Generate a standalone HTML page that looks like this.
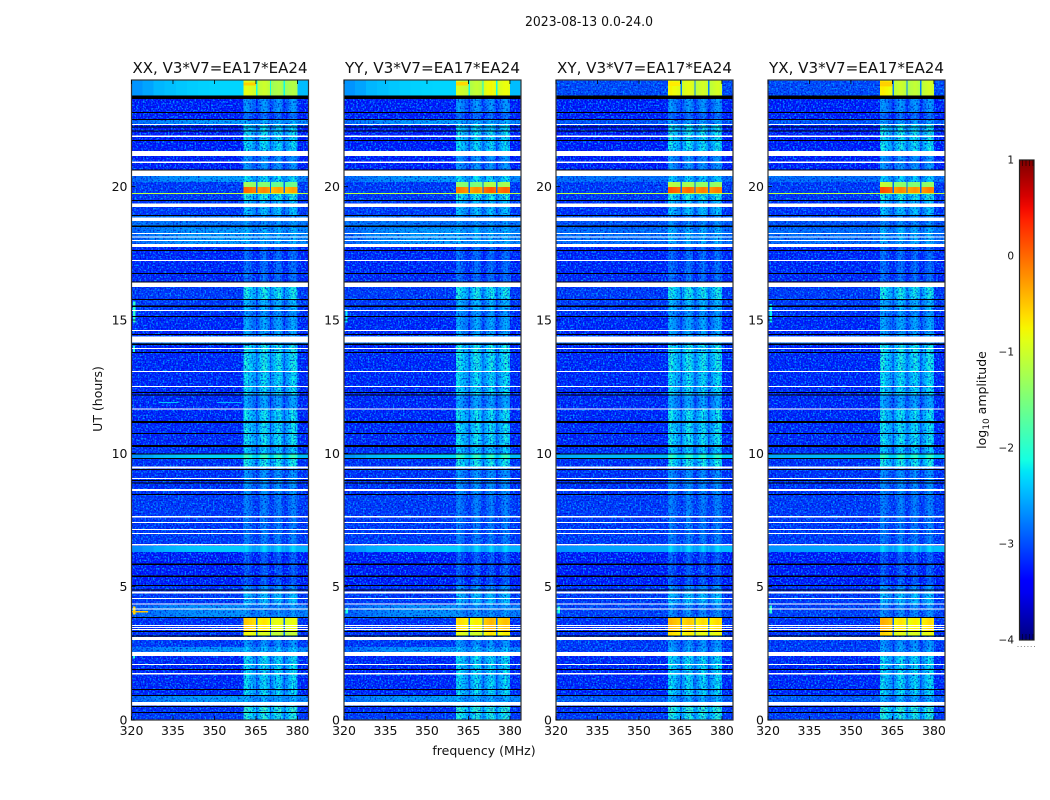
<!DOCTYPE html>
<html>
<head>
<meta charset="utf-8">
<title>Dynamic spectra 2023-08-13</title>
<style>
html,body{margin:0;padding:0;background:#fff;width:1050px;height:800px;overflow:hidden}
svg{display:block}
text{font-family:"DejaVu Sans","Liberation Sans",sans-serif;fill:#111}
.tick{font-size:12.5px}
</style>
</head>
<body>
<svg id="chart" width="1050" height="800" viewBox="0 0 1050 800" xmlns="http://www.w3.org/2000/svg">
<defs>
<linearGradient id="jetGradient" x1="0" y1="1" x2="0" y2="0"></linearGradient>
<filter id="speckleLight" x="0" y="0" width="100%" height="100%" color-interpolation-filters="sRGB">
<feTurbulence type="fractalNoise" baseFrequency="0.6" numOctaves="1" seed="3"/>
<feColorMatrix type="matrix" values="0 0 0 0 0  0 0 0 0 0.6  0 0 0 0 1  4 0 0 0 -1.85"/>
</filter>
<filter id="speckleDark" x="0" y="0" width="100%" height="100%" color-interpolation-filters="sRGB">
<feTurbulence type="fractalNoise" baseFrequency="0.6" numOctaves="1" seed="11"/>
<feColorMatrix type="matrix" values="0 0 0 0 0  0 0 0 0 0  0 0 0 0 0.75  0 3 0 0 -1.5"/>
</filter>
</defs>
<text x="589" y="26" text-anchor="middle" font-size="13" textLength="128" lengthAdjust="spacingAndGlyphs">2023-08-13 0.0-24.0</text>
<text x="484" y="755" text-anchor="middle" font-size="12.5">frequency (MHz)</text>
<text transform="translate(102,399) rotate(-90)" text-anchor="middle" font-size="12.5">UT (hours)</text>
<text transform="translate(986,400) rotate(-90)" text-anchor="middle" font-size="12.5">log<tspan font-size="9" dy="3">10</tspan><tspan dy="-3"> amplitude</tspan></text>
<g id="panels"></g>
<g id="colorbar"></g>
</svg>
<script>
const panelTitles = ["XX, V3*V7=EA17*EA24", "YY, V3*V7=EA17*EA24", "XY, V3*V7=EA17*EA24", "YX, V3*V7=EA17*EA24"];
const panelIds = ["xx", "yy", "xy", "yx"];
const xTicksMHz = [320, 335, 350, 365, 380];
const yTicksUT = [0, 5, 10, 15, 20];
const colorbarTicks = [1, 0, -1, -2, -3, -4];

/* Time bands, top edge of each in UT hours (last band ends at 0) */
const bandTopUT = [24,23.40,22.76,22.50,22.33,21.34,20.63,20.40,20.18,19.99,19.74,19.46,18.90,18.45,17.74,16.43,15.79,15.38,15.11,14.40,14.06,13.05,12.19,11.66,11.14,10.24,9.96,9.83,9.49,8.48,6.53,6.30,5.06,4.80,4.31,3.86,3.34,3.15,2.74,2.55,0.90,0.68,0.53,0.26];
/* log10 amplitude outside the bright band, parallel hands (XX, YY) */
const bgParallel = [-2.45,-3.3,-3.3,-2.7,-3.3,-3.3,-3.15,-2.7,-3.15,-3.15,-3.15,-3.15,-2.8,-2.7,-3.25,-3.15,-3.15,-3.2,-3.25,-2.7,-3.25,-3.25,-3.25,-3.25,-3.25,-3.2,-2.45,-3.2,-3.2,-3.15,-2.5,-3.3,-3.2,-3.15,-2.75,-3.2,-3.2,-3.15,-2.7,-3.25,-2.7,-3.1,-3.2,-3.15];
/* log10 amplitude outside the bright band, cross hands (XY, YX) */
const bgCross = [-3.05,-3.3,-3.3,-3.0,-3.3,-3.3,-3.15,-2.85,-3.15,-3.15,-3.15,-3.2,-3.0,-2.85,-3.25,-3.15,-3.15,-3.2,-3.25,-2.85,-3.25,-3.25,-3.25,-3.25,-3.25,-3.2,-2.35,-3.2,-3.2,-3.15,-2.45,-3.3,-3.2,-3.15,-3.1,-3.2,-3.2,-3.15,-3.15,-3.25,-2.95,-3.1,-3.2,-3.15];
/* log10 amplitude inside 360.5-380 MHz */
const inParallel = [-1.15,-2.85,-3.1,-2.7,-2.45,-2.85,-2.85,-2.45,-1.55,-0.3,-2.35,-2.6,-2.85,-2.7,-3.1,-2.35,-2.65,-2.85,-2.75,-2.7,-2.35,-2.45,-2.75,-2.4,-2.4,-2.55,-2.2,-2.35,-2.85,-3.0,-2.6,-3.2,-2.85,-2.6,-2.85,-0.8,-1.05,-2.85,-2.6,-2.45,-2.7,-2.5,-2.2,-2.3];
const inCross = [-1.15,-2.85,-3.1,-2.8,-2.4,-2.85,-2.85,-2.55,-1.5,-0.3,-2.35,-2.6,-2.9,-2.7,-3.1,-2.35,-2.65,-2.85,-2.75,-2.7,-2.35,-2.45,-2.75,-2.4,-2.4,-2.55,-2.25,-2.35,-2.9,-3.0,-2.6,-3.2,-2.85,-2.6,-2.9,-0.8,-1.0,-2.85,-2.75,-2.45,-2.7,-2.5,-2.2,-2.3];

/* Channel lower edges (MHz) and in-band offset for each 0.5 MHz channel from 360.5 */
const offBandEdgesMHz = [320,324,328,332,336,340,344,348,352,356,360.5];
const inBandOffsets = [.2,.3,.3,.2,.1,.1,-.05,-.1,-.1,-.6,-.15,-.05,.1,.2,.3,.3,.2,.1,-.1,-.6,-.2,-.1,.1,.1,.2,.3,.2,.1,-.1,-.6,-.2,-.1,0,.1,.2,.3,.3,.2,.1];
/* Gentle continuum rise toward higher frequency in bright bands */
const continuumTilt = [0,.08,.17,.21,.25,.28,.3,.31,.32,.32];
/* Per-polarization trim of the strong RFI, one value per subband */
const rfiTrimXX = [.2,.05,-.1,-.1];
const rfiTrimYY = [.1,0,.3,.25];
const rfiTrimXY = [.3,.2,.1,.1];
const rfiTrimYX = [.35,.05,0,.1];
const rfiTrims = [rfiTrimXX, rfiTrimYY, rfiTrimXY, rfiTrimYX];

/* Flagged rows (UT ranges), white = missing */
const whiteGapLow = [22.31,21.86,21.15,20.89,20.40,19.24,18.72,18.22,18.09,17.96,17.74,17.21,16.24,15.34,14.59,14.16,13.91,13.05,12.49,11.64,9.43,9.04,8.59,7.59,7.39,7.13,6.98,6.54,4.74,4.54,4.33,4.14,3.53,3.45,3.38,3.00,2.40,2.06,1.71,0.54];
const whiteGapHigh = [22.35,21.91,21.34,20.94,20.60,19.37,18.84,18.26,18.13,18.00,17.85,17.25,16.40,15.38,14.63,14.38,13.95,13.09,12.53,11.69,9.51,9.08,8.66,7.65,7.43,7.16,7.01,6.60,4.81,4.58,4.37,4.18,3.56,3.49,3.41,3.12,2.55,2.10,1.76,0.68];
/* Zero-amplitude rows (UT ranges), black */
const blackGapLow = [23.29,22.76,22.50,22.22,22.07,21.71,20.60,19.46,18.90,18.49,17.59,16.73,16.40,15.75,15.49,15.11,14.44,14.06,13.76,12.26,12.17,11.14,10.73,10.24,9.95,9.79,9.38,8.96,8.87,8.43,5.81,5.36,5.03,4.86,3.83,3.30,3.13,1.88,1.13,0.90,0.49,0.26];
const blackGapHigh = [23.41,22.80,22.54,22.26,22.11,21.75,20.64,19.50,18.94,18.54,17.63,16.76,16.44,15.79,15.54,15.15,14.48,14.12,13.80,12.30,12.21,11.21,10.76,10.31,9.99,9.83,9.41,9.00,8.91,8.48,5.87,5.42,5.06,4.89,3.86,3.34,3.17,1.91,1.16,0.94,0.53,0.30];

/* Isolated RFI features; panel -1 = all panels */
const spotPanel = [-1,0,0,0,0,0,0,0,1,2,3,3,0,3,1,2,3,1];
const spotMHzLow = [320,320.6,320,320.6,330,351,320.6,320.6,320.6,320.6,320.6,320.6,360.5,360.5,360.5,360.5,360.5,320.6];
const spotMHzHigh = [384,321.5,326,321.4,337,360,321.2,321.2,321.4,321.4,321.4,321.4,365,365,365,365,365,321.2];
const spotUTLow = [19.73,3.95,4.03,14.9,11.88,11.88,13.8,2.3,4.0,4.0,4.0,14.9,23.80,23.75,23.80,23.78,23.78,14.9];
const spotUTHigh = [19.77,4.25,4.08,15.7,11.92,11.92,14.05,2.55,4.2,4.25,4.3,15.6,23.90,23.95,23.92,23.92,23.95,15.4];
const spotLevel = [-1.1,-0.6,-0.5,-2.0,-2.4,-2.5,-2.1,-2.1,-2.1,-2.1,-2.0,-2.2,-0.55,-0.6,-0.6,-0.7,-0.55,-2.2];

const panelLeft = [131.5, 344, 556, 768];
const panelWidth = 177;
const plotTop = 80;
const plotHeight = 640;
const mhzMin = 320, mhzMax = 384, utMax = 24;
const cbarLeft = 1019.5, cbarWidth = 14.5, cbarTop = 160, cbarHeight = 480;
const SVGNS = "http://www.w3.org/2000/svg";

function xScale(p, mhz) { return panelLeft[p] + (mhz - mhzMin) / (mhzMax - mhzMin) * panelWidth; }
function yScale(ut) { return plotTop + (utMax - ut) / utMax * plotHeight; }
function cbarY(v) { return cbarTop + (1 - v) / 5 * cbarHeight; }
function lerp(t, pts) {
  if (t <= pts[0][0]) return pts[0][1];
  for (let i = 1; i < pts.length; i++) {
    if (t <= pts[i][0]) {
      const a = pts[i - 1], b = pts[i];
      return a[1] + (b[1] - a[1]) * (t - a[0]) / (b[0] - a[0]);
    }
  }
  return pts[pts.length - 1][1];
}
function jet(level) {
  const t = Math.max(0, Math.min(1, (level + 4) / 5));
  const r = lerp(t, [[.35, 0], [.66, 1], [.89, 1], [1, .5]]);
  const g = lerp(t, [[.125, 0], [.375, 1], [.64, 1], [.91, 0]]);
  const b = lerp(t, [[0, .5], [.11, 1], [.34, 1], [.65, 0]]);
  return "rgb(" + Math.round(r * 255) + "," + Math.round(g * 255) + "," + Math.round(b * 255) + ")";
}
function make(tag, attrs, parent) {
  const el = document.createElementNS(SVGNS, tag);
  for (const k in attrs) el.setAttribute(k, attrs[k]);
  parent.appendChild(el);
  return el;
}
function cellRect(p, mhzLo, mhzHi, utLo, utHi, fill, parent) {
  const y0 = yScale(utHi), y1 = yScale(utLo);
  const x0 = xScale(p, mhzLo), x1 = xScale(p, mhzHi);
  return make("rect", { x: x0.toFixed(2), y: y0.toFixed(2), width: (x1 - x0).toFixed(2), height: (y1 - y0).toFixed(2), fill: fill, "shape-rendering": "crispEdges" }, parent);
}

const root = document.getElementById("panels");
panelTitles.forEach(function (title, p) {
  const g = make("g", {}, root);
  
  
  const base = make("g", {}, g);
  const x0 = panelLeft[p];
  const bg = p < 2 ? bgParallel : bgCross;
  const inb = p < 2 ? inParallel : inCross;
  const noisy = [];
  const smooth = [];
  bandTopUT.forEach(function (ut, b) {
    const low = b + 1 < bandTopUT.length ? bandTopUT[b + 1] : 0;
    const tilted = bg[b] > -2.8 ? 1 : 0;
    const isSmooth = bg[b] > -2.62;
    for (let c = 0; c + 1 < offBandEdgesMHz.length; c++) {
      const level = bg[b] + tilted * continuumTilt[c] * (p < 2 ? 1 : .3) - tilted * .2;
      (isSmooth ? smooth : noisy).push([offBandEdgesMHz[c], offBandEdgesMHz[c + 1], low, ut, level]);
    }
    inBandOffsets.forEach(function (off, c) {
      const lo = 360.5 + c * 0.5;
      const strong = inb[b] > -1.7;
      let level;
      if (off < -.5) {
        level = strong ? bg[b] + .3 : Math.max(bg[b], inb[b] + off);
      } else if (strong) {
        level = inb[b] + off * .3 + rfiTrims[p][Math.min(3, Math.floor(c / 10))];
      } else {
        level = Math.max(inb[b] + off, Math.min(bg[b], inb[b]));
      }
      (strong || isSmooth ? smooth : noisy).push([lo, lo + .5, low, ut, level]);
    });
    (isSmooth ? smooth : noisy).push([380, 384, low, ut, bg[b]]);
  });
  noisy.forEach(function (t) {
    const cell = cellRect(p, t[0], t[1], t[2], t[3], jet(t[4]), base);
    
    
  });
  const n1 = make("rect", { x: x0, y: plotTop, width: panelWidth, height: plotHeight, filter: "url(#speckleLight)" }, g);
  
  
  const n2 = make("rect", { x: x0, y: plotTop, width: panelWidth, height: plotHeight, filter: "url(#speckleDark)" }, g);
  
  
  const strongLayer = make("g", {}, g);
  smooth.forEach(function (t) {
    const cell = cellRect(p, t[0], t[1], t[2], t[3], jet(t[4]), strongLayer);
    
    
  });
  spotLevel.forEach(function (lv, i) {
    if (spotPanel[i] !== -1 && spotPanel[i] !== p) return;
    const s = cellRect(p, spotMHzLow[i], spotMHzHigh[i], spotUTLow[i], spotUTHigh[i], jet(lv), strongLayer);
    
    
  });
  whiteGapLow.forEach(function (lo, i) {
    const r = cellRect(p, mhzMin, mhzMax, lo, whiteGapHigh[i], "#fff", g);
    
    
  });
  blackGapLow.forEach(function (lo, i) {
    const r = cellRect(p, mhzMin, mhzMax, lo, blackGapHigh[i], "#000", g);
    
    
  });
  const frame = make("rect", { x: x0, y: plotTop, width: panelWidth, height: plotHeight, fill: "none", stroke: "#333", "stroke-width": 1.2 }, g);
  
  
  const ttl = make("text", { x: x0 + panelWidth / 2, y: 73, "text-anchor": "middle", "font-size": 15.5, textLength: 175, lengthAdjust: "spacingAndGlyphs" }, g);
  ttl.textContent = title;
  
  
  xTicksMHz.forEach(function (m) {
    const x = xScale(p, m);
    const t1 = make("line", { x1: x, x2: x, y1: plotTop + plotHeight, y2: plotTop + plotHeight - 4, stroke: "#000", "stroke-width": .8 }, g);
    
    
    const t2 = make("line", { x1: x, x2: x, y1: plotTop, y2: plotTop + 4, stroke: "#000", "stroke-width": .8 }, g);
    
    
    const lb = make("text", { x: x, y: 735, "text-anchor": "middle", "class": "tick" }, g);
    lb.textContent = m;
    
    
  });
  yTicksUT.forEach(function (u) {
    const y = yScale(u);
    const t1 = make("line", { x1: x0, x2: x0 + 4, y1: y, y2: y, stroke: "#000", "stroke-width": .8 }, g);
    
    
    const lb = make("text", { x: x0 - 4, y: y + 4.5, "text-anchor": "end", "class": "tick" }, g);
    lb.textContent = u;
    
    
  });
});

const grad = document.getElementById("jetGradient");
for (let i = 0; i <= 40; i++) {
  make("stop", { offset: (i / 40 * 100) + "%", "stop-color": jet(-4 + i / 40 * 5) }, grad);
}
const cb = document.getElementById("colorbar");
const bar = make("rect", { x: cbarLeft, y: cbarTop, width: cbarWidth, height: cbarHeight, fill: "url(#jetGradient)", stroke: "#222", "stroke-width": 1.2 }, cb);


colorbarTicks.forEach(function (v) {
  const lb = make("text", { x: 1014, y: cbarY(v) + 3.5, "text-anchor": "end", "font-size": 10.5 }, cb);
  lb.textContent = v < 0 ? "\u2212" + Math.abs(v) : String(v);
  
  
});
[1022.5, 1026, 1029.5, 1033].forEach(function (x) {
  const a = make("line", { x1: x, x2: x, y1: cbarTop, y2: cbarTop + 6, stroke: "#300", "stroke-width": .8 }, cb);
  
  
  const b = make("line", { x1: x, x2: x, y1: cbarTop + cbarHeight, y2: cbarTop + cbarHeight - 6, stroke: "#003", "stroke-width": .8 }, cb);
  
  
});
[1017.5, 1020.8, 1024.1, 1027.4, 1030.7, 1034].forEach(function (x) {
  const d = make("rect", { x: x, y: 646, width: 1, height: 1, fill: "#888" }, cb);
  
  
});
</script>
</body>
</html>
